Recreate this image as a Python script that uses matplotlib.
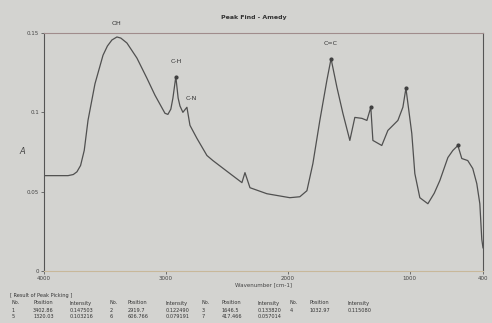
import numpy as np
import matplotlib
matplotlib.use("Agg")
import matplotlib.pyplot as plt

# spectrum (wavenumber cm-1, absorbance)
wavenumber = [4000, 3803, 3760, 3730, 3700, 3670, 3639, 3582, 3516, 3480, 3443,
              3402, 3370, 3320, 3238, 3156, 3090, 3008, 2984, 2960, 2943, 2919,
              2900, 2885, 2861, 2828, 2803, 2746, 2664, 2615, 2475, 2377, 2352,
              2311, 2172, 1984, 1902, 1844, 1795, 1738, 1680, 1646, 1598, 1549,
              1492, 1451, 1393, 1352, 1320, 1303, 1230, 1180, 1098, 1057, 1032,
              984, 959, 918, 880, 852, 800, 754, 688, 647, 606, 574, 525, 484,
              451, 426, 410, 400]
absorbance = [0.0601, 0.0601, 0.0608, 0.0625, 0.0665, 0.0760, 0.0950, 0.1180,
              0.1360, 0.1418, 0.1456, 0.1475, 0.1468, 0.1437, 0.1342, 0.1215,
              0.1108, 0.0994, 0.0987, 0.1020, 0.1089, 0.1225, 0.1090, 0.1040,
              0.1000, 0.1032, 0.0918, 0.0836, 0.0728, 0.0696, 0.0614, 0.0557,
              0.0620, 0.0525, 0.0487, 0.0462, 0.0468, 0.0506, 0.0677, 0.0949,
              0.1203, 0.1338, 0.1158, 0.0994, 0.0823, 0.0968, 0.0962, 0.0949,
              0.1032, 0.0823, 0.0791, 0.0886, 0.0949, 0.1032, 0.1152, 0.0867,
              0.0614, 0.0462, 0.0440, 0.0424, 0.0490, 0.0570, 0.0715, 0.0760,
              0.0791, 0.0709, 0.0696, 0.0646, 0.0551, 0.0424, 0.0200, 0.0146]

# picked peaks
peak_pos = [2919, 1646, 1320, 1032, 606]
peak_int = [0.1225, 0.1338, 0.1032, 0.1152, 0.0791]

group_labels = ["OH", "C-H", "C-N", "C=C"]
group_pos = [3402, 2915, 2790, 1650]
group_int = [0.1545, 0.1305, 0.1070, 0.1420]

xticks = [4000, 3000, 2000, 1000, 400]
yticks = [0, 0.05, 0.1, 0.15]

table_rows = [
    ["No.", "Position", "Intensity", "No.", "Position", "Intensity",
     "No.", "Position", "Intensity", "No.", "Position", "Intensity"],
    ["1", "3402.86", "0.147503", "2", "2919.7", "0.122490",
     "3", "1646.5", "0.133820", "4", "1032.97", "0.115080"],
    ["5", "1320.03", "0.103216", "6", "606.766", "0.079191",
     "7", "417.466", "0.057014", "", "", ""],
]

bg = "#d3d3d0"
fig = plt.figure(figsize=(4.92, 3.23), dpi=100, facecolor=bg)
ax = fig.add_axes([44 / 492, 1 - 271 / 323, (483 - 44) / 492, (271 - 33) / 323])
ax.set_facecolor(bg)

ax.plot(wavenumber, absorbance, color="#505050", lw=0.9)
ax.plot(peak_pos, peak_int, "o", color="#404040", ms=2)
for lab, p, v in zip(group_labels, group_pos, group_int):
    ax.text(p, v, lab, fontsize=4.5, color="#333333", ha="center", va="bottom")

ax.set_xlim(4000, 400)
ax.set_ylim(0, 0.15)
ax.set_xticks(xticks)
ax.set_xticklabels([str(t) for t in xticks])
ax.set_yticks(yticks)
ax.set_yticklabels(["0", "0.05", "0.1", "0.15"])
ax.tick_params(labelsize=4, colors="#444444", length=2, width=0.5, pad=1.5)

for s in ["left", "right"]:
    ax.spines[s].set_color("#555555")
    ax.spines[s].set_linewidth(0.8)
ax.spines["top"].set_color("#a08c8c")
ax.spines["top"].set_linewidth(0.8)
ax.spines["bottom"].set_color("#c8b89a")
ax.spines["bottom"].set_linewidth(0.8)

ax.set_xlabel("Wavenumber [cm-1]", fontsize=4, color="#444444", labelpad=1)
fig.text(22 / 492, 1 - 152 / 323, "A", fontsize=6, color="#444444",
         ha="center", va="center", style="italic")
fig.text(254 / 492, 1 - 17 / 323, "Peak Find - Amedy", fontsize=4.5,
         weight="bold", color="#333333", ha="center", va="center")

# peak picking table below the chart
fig.text(10 / 492, 1 - 296 / 323, "[ Result of Peak Picking ]", fontsize=3.6,
         color="#333333", va="center")
col_x = [12, 33, 70, 110, 128, 166, 202, 222, 258, 290, 310, 348]
row_y = [303, 310, 316]
for r, row in zip(row_y, table_rows):
    for cx, cell in zip(col_x, row):
        fig.text(cx / 492, 1 - r / 323, cell, fontsize=3.6, color="#333333",
                 va="center")

fig.savefig("out.png", dpi=100, facecolor=bg)
